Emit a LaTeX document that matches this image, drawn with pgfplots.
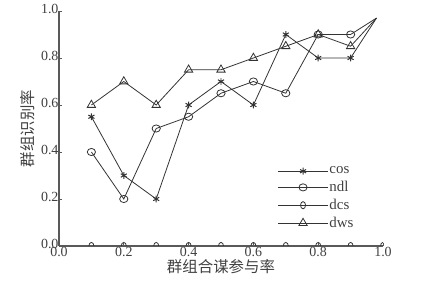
\documentclass[border=0pt]{standalone}
\usepackage{pgfplots}
\pgfplotsset{compat=1.18}
\usepackage{fontspec}
\setmainfont{Liberation Serif}
\newfontfamily\cjk{Noto Sans CJK SC}
\begin{document}
\begin{tikzpicture}
\begin{axis}[
  name=ax,
  scale only axis,
  width=324bp, height=235bp,
  xmin=0, xmax=1, ymin=0, ymax=1,
  axis x line=bottom, axis y line=left,
  axis line style={-, line width=1.3pt, black!65},
  xtick={0,0.2,...,1.0}, ytick={0,0.2,...,1.0},
  xticklabel style={/pgf/number format/fixed,/pgf/number format/fixed zerofill,/pgf/number format/precision=1, yshift=2pt},
  yticklabel style={/pgf/number format/fixed,/pgf/number format/fixed zerofill,/pgf/number format/precision=1, xshift=3pt, yshift=2pt},
  /pgf/number format/assume math mode=true,
  tick label style={font=\fontsize{14}{16}\selectfont, text=black!75},
  tick align=inside, major tick length=3pt,
  tick style={black!65, line width=0.8pt},
  xlabel={\cjk 群组合谋参与率}, ylabel={\cjk 群组识别率},
  label style={font=\fontsize{15.5}{17}\selectfont, text=black!75},
  xlabel style={yshift=4pt},
  ylabel style={yshift=-1pt},
  clip=true, clip marker paths=true,
  legend style={draw=none, fill=none, at={(0.665,0.35)}, anchor=north west,
    font=\fontsize{15}{17}\selectfont, row sep=4pt, text=black!75,
    nodes={inner xsep=1pt, inner ysep=1pt}},
  legend cell align=left,
  legend image code/.code={
    \draw[#1, mark indices={2}] plot coordinates {(0bp,0bp)(25bp,0bp)(50bp,0bp)};},
  every axis plot/.append style={black!80, line width=0.8pt, mark options={solid, fill=white}},
]
\addplot[mark=asterisk, mark size=3.5pt, mark options={line width=1pt}, mark indices={1,2,3,4,5,6,7,8,9}] coordinates {
 (0.1,0.55)(0.2,0.3)(0.3,0.2)(0.4,0.6)(0.5,0.7)(0.6,0.6)(0.7,0.9)(0.8,0.8)(0.9,0.8)(0.98,0.97)};
\addlegendentry{cos}
\addplot[mark=o, mark size=3.6pt, mark options={xscale=1.15}, mark indices={1,2,3,4,5,6,7,8,9}] coordinates {
 (0.1,0.4)(0.2,0.2)(0.3,0.5)(0.4,0.55)(0.5,0.65)(0.6,0.7)(0.7,0.65)(0.8,0.9)(0.9,0.9)(0.98,0.97)};
\addlegendentry{ndl}
\addplot[mark=o, mark size=3.6pt, mark options={xscale=0.7}] coordinates {
 (0.1,0)(0.2,0)(0.3,0)(0.4,0)(0.5,0)(0.6,0)(0.7,0)(0.8,0)(0.9,0)(1.0,0)};
\addlegendentry{dcs}
\addplot[mark=triangle, mark size=4.8pt, mark indices={1,2,3,4,5,6,7,8,9}] coordinates {
 (0.1,0.6)(0.2,0.7)(0.3,0.6)(0.4,0.75)(0.5,0.75)(0.6,0.8)(0.7,0.85)(0.8,0.9)(0.9,0.85)(0.98,0.97)};
\addlegendentry{dws}
\end{axis}
\path (ax.south west) ++(-59bp,-46bp) rectangle ([xshift=62bp,yshift=11bp]ax.north east);
\end{tikzpicture}
\end{document}
